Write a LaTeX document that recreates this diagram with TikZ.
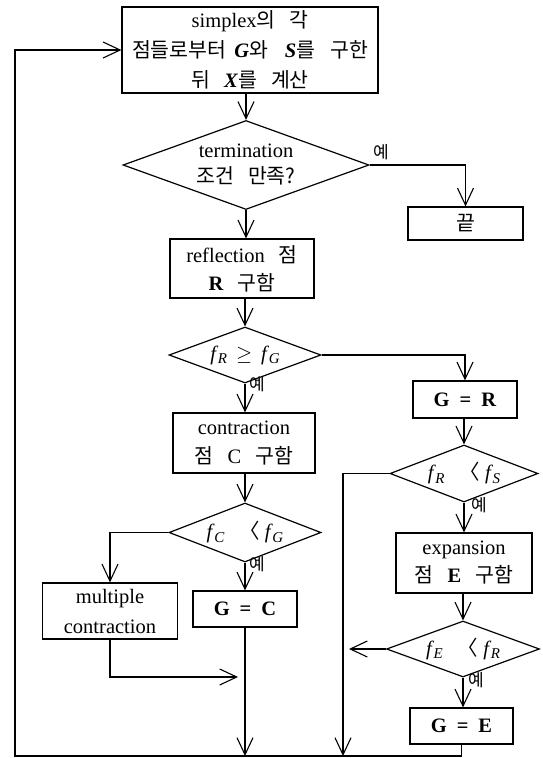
\documentclass[tikz,border=0pt]{standalone}
\usepackage{fontspec}
\setmainfont{Liberation Serif}
\newfontfamily\korfont{Noto Sans CJK KR}[Scale=1.0]
\newcommand\kor[1]{{\korfont #1}}
\newcommand\ksp{\hspace{14pt}}
\newcommand\fsub[2]{\textit{#1}\kern-0.5pt\raisebox{-3.5pt}{\fontsize{15}{15}\selectfont\textit{#2}}}
\newcommand\bi[1]{\textbf{\textit{#1}}}
\newcommand\lt{\hspace{15pt}\kor{〈}\hspace{5pt}}
\usetikzlibrary{shapes.geometric,arrows.meta}
\begin{document}
\begin{tikzpicture}[x=1pt,y=-1pt,
  every node/.style={font=\fontsize{20.5}{29}\selectfont},
  box/.style={draw,line width=1.2pt,inner sep=0pt,align=center},
  dia/.style={draw,diamond,line width=1.2pt,inner sep=0pt,align=center,aspect=2.7},
  arr/.style={line width=1.1pt,-{Straight Barb[length=17pt,width=16pt,line width=1.1pt]}},
  yes/.style={font=\fontsize{17}{17}\selectfont\korfont,inner sep=0pt}]
\useasboundingbox (0,0) rectangle (542,758);

% nodes
\node[box,minimum width=256pt,minimum height=86pt,font=\fontsize{20.5}{30}\selectfont] (top) at (250,50)
  {simplex\kor{의}\ksp\kor{각}\\\kor{점들로부터}\hspace{8pt}\bi{G}\kor{와}\hspace{17pt}\bi{S}\kor{를}\hspace{15pt}\kor{구한}\\\kor{뒤}\ksp\bi{X}\kor{를}\ksp\kor{계산}};
\node[dia,minimum width=246pt,minimum height=89pt,font=\fontsize{20.5}{26}\selectfont] (d1) at (246,165)
  {termination\\\kor{조건}\ksp\kor{만족?}};
\node[box,minimum width=115pt,minimum height=33pt] (end) at (465.5,223.5) {\kor{끝}};
\node[box,minimum width=144pt,minimum height=59pt,font=\fontsize{20.5}{28}\selectfont] (refl) at (242,268.5)
  {reflection\ksp\kor{점}\\\textbf{R}\ksp\kor{구함}};
\node[dia,minimum width=152pt,minimum height=56pt] (d2) at (245,355)
  {\fsub{f}{R}\hspace{9pt}$\geq$\hspace{9pt}\fsub{f}{G}};
\node[box,minimum width=104pt,minimum height=37pt] (gr) at (465,399.5)
  {\textbf{G\hspace{10pt}=\hspace{10pt}R}};
\node[box,minimum width=142pt,minimum height=60pt] (contr) at (244,443)
  {contraction\\\kor{점}\ksp C\ksp\kor{구함}};
\node[dia,minimum width=148pt,minimum height=57pt] (d4) at (464,473.5)
  {\fsub{f}{R}\lt\fsub{f}{S}};
\node[dia,minimum width=152pt,minimum height=59pt] (d3) at (245,532.5)
  {\fsub{f}{C}\lt\fsub{f}{G}};
\node[box,minimum width=136pt,minimum height=60pt,font=\fontsize{20.5}{28}\selectfont] (exp) at (464,563)
  {expansion\\\kor{점}\ksp\textbf{E}\ksp\kor{구함}};
\node[box,minimum width=104pt,minimum height=36pt] (gc) at (245,609)
  {\textbf{G\hspace{10pt}=\hspace{10pt}C}};
\node[box,minimum width=135pt,minimum height=56pt,font=\fontsize{20.5}{30}\selectfont] (mult) at (110,611)
  {multiple\\contraction};
\node[dia,minimum width=153pt,minimum height=56pt] (d5) at (463,649)
  {\fsub{f}{E}\lt\fsub{f}{R}};
\node[box,minimum width=103pt,minimum height=36pt] (ge) at (461.5,726)
  {\textbf{G\hspace{10pt}=\hspace{10pt}E}};

% yes labels
\node[yes] (y1) at (381,152) {예};
\node[yes] (y2) at (257,384) {예};
\node[yes] (y3) at (257,564) {예};
\node[yes] (y4) at (479,505) {예};
\node[yes] (y5) at (476,680) {예};

% helper coordinates
\coordinate (b1) at (245,756);
\coordinate (b2) at (343,756);
\coordinate (bl) at (15,756);
\coordinate (tl) at (15,50);
\coordinate (mj) at (238,677);
\coordinate (d5l) at (349,649);

% connectors
\draw[arr] (top.south -| d1.north) -- (d1.north);
\draw[arr] (d1.east) -| (end.north);
\draw[arr] (d1.south) -- (d1.south |- refl.north);
\draw[arr] (refl.south -| d2.north) -- (d2.north);
\draw[arr] (d2.east) -| (gr.north);
\draw[arr] (d2.south) -- (d2.south |- contr.north);
\draw[arr] (contr.south -| d3.north) -- (d3.north);
\draw[arr] (d3.west) -| (mult.north);
\draw[arr] (d3.south) -- (d3.south |- gc.north);
\draw[arr] (gc.south) -- (b1);
\draw[arr] (mult.south) |- (mj);
\draw[arr] (gr.south -| d4.north) -- (d4.north);
\draw[arr] (d4.west) -| (b2);
\draw[arr] (d4.south) -- (d4.south |- exp.north);
\draw[arr] (exp.south -| d5.north) -- (d5.north);
\draw[arr] (d5.west) -- (d5l);
\draw[arr] (d5.south) -- (d5.south |- ge.north);
\draw[arr] (ge.south) |- (bl) -- (tl) -- (top.west);
\end{tikzpicture}
\end{document}
